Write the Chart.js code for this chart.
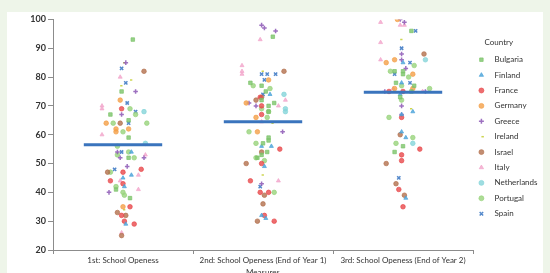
<!DOCTYPE html>
<html>
<head>
<meta charset="utf-8">
<script src="https://cdn.jsdelivr.net/npm/chart.js@4"></script>
<style>
  html, body { margin: 0; padding: 0; background: #eef5e9; width: 550px; height: 273px; overflow: hidden; }
  #panel { position: absolute; left: 7px; top: 12px; width: 536px; height: 261px; background: #ffffff; }
</style>
</head>
<body>
<div id="panel"><canvas id="grafico" width="536" height="261"></canvas></div>
<script>
// categorias del eje x y paises de la leyenda
const categories = ['1st: School Openess', '2nd: School Openess (End of Year 1)', '3rd: School Openess (End of Year 2)'];
const countries = ['Bulgaria', 'Finland', 'France', 'Germany', 'Greece', 'Ireland', 'Israel', 'Italy', 'Netherlands', 'Portugal', 'Spain'];
const yTicks = [20, 30, 40, 50, 60, 70, 80, 90, 100];
const meanValues = [56.5, 64.5, 74.7];

// puntos [posicion x con dispersion, valor]
const bulgaria = [[0.57,93],[0.49,75],[0.41,67],[0.54,65],[0.54,59],[0.54,52],[0.45,41],[0.55,38],
  [1.57,94],[1.41,78],[1.49,77],[1.52,75],[1.49,72],[1.58,71],[1.54,70],[1.54,68],[1.54,59],[1.54,58],[1.50,57],[1.53,54],[1.49,53],[1.46,52],
  [2.56,96],[2.44,82],[2.50,82],[2.50,81],[2.45,78],[2.58,77],[2.56,75],[2.48,73],[2.50,56],[2.44,54]];
const finland = [[0.56,54],[0.56,46],[0.50,45],[0.51,42],[0.52,29],
  [1.55,74],[1.56,56],[1.49,56],[1.51,49],[1.49,32],[1.52,31],
  [2.50,85],[2.49,78],[2.48,74],[2.57,68],[2.49,67],[2.49,61],[2.52,59],[2.52,38]];
const france = [[0.49,69],[0.63,48],[0.50,47],[0.41,44],[0.50,43],[0.55,35],[0.49,32],[0.51,30],[0.58,29],
  [1.48,73],[1.49,70],[1.49,67],[1.62,55],[1.49,50],[1.41,44],[1.48,40],[1.54,40],[1.51,32],[1.58,30],
  [2.40,75],[2.50,75],[2.49,66],[2.62,55],[2.49,53],[2.49,51],[2.47,41],[2.50,35]];
const germany = [[0.48,72],[0.38,64],[0.45,62],[0.54,62],[0.45,61],[0.50,35],
  [1.54,79],[1.38,71],[1.45,66],[1.46,61],
  [2.46,100],[2.44,86],[2.38,85],[2.57,81],[2.44,76],[2.57,76]];
const greece = [[0.52,85],[0.59,75],[0.49,67],[0.46,54],[0.48,52],[0.65,52],[0.53,49],[0.40,40],
  [1.49,98],[1.51,97],[1.59,96],[1.40,71],[1.45,70],[1.64,61],[1.49,43],
  [2.48,100],[2.51,99],[2.49,88],[2.49,86],[2.52,83],[2.37,75],[2.66,75],[2.49,70],[2.49,67]];
const ireland = [[0.50,85],[0.55,79],[0.48,77],[0.50,34],
  [1.49,82],[1.56,64],[1.49,46],
  [2.48,93],[2.55,69]];
const israel = [[0.65,82],[0.48,64],[0.39,47],[0.46,33],[0.52,32],[0.49,25],
  [1.65,82],[1.49,73],[1.45,72],[1.49,54],[1.38,50],[1.51,39],[1.50,36],[1.46,30],
  [2.65,88],[2.48,60],[2.38,50],[2.45,43],[2.51,39]];
const italy = [[0.48,80],[0.35,70],[0.35,69],[0.35,60],[0.66,53],[0.61,46],[0.48,44],[0.61,41],[0.49,26],
  [1.48,93],[1.35,84],[1.35,82],[1.35,81],[1.66,72],[1.61,70],[1.49,64.5],[1.61,44],
  [2.34,99],[2.48,98],[2.51,98],[2.34,92],[2.34,86],[2.43,76],[2.64,75]];
const netherlands = [[0.65,68],[0.66,57],
  [1.65,74],[1.66,69],[1.66,68],
  [2.66,86],[2.57,57]];
const portugal = [[0.55,69],[0.59,67],[0.43,64],[0.67,64],[0.50,61],[0.46,56],[0.54,54],[0.46,53],[0.58,52],[0.41,47],[0.45,42],[0.50,40],[0.51,39],
  [1.43,77],[1.55,76],[1.49,69],[1.54,68],[1.53,66],[1.40,61],[1.45,57],[1.45,52],[1.51,51],[1.58,40],
  [2.58,84],[2.41,82],[2.54,80],[2.49,77],[2.69,76],[2.49,72],[2.40,66],[2.57,59],[2.45,57]];
const spain = [[0.49,83],[0.52,78],[0.53,71],[0.59,68],[0.54,64],[0.49,54],[0.44,48],
  [1.49,81],[1.53,81],[1.59,81],[1.51,79],[1.50,74],[1.48,42],
  [2.59,96],[2.49,90],[2.55,85],[2.44,81],[2.55,78],[2.47,45]];

const countryPoints = [bulgaria, finland, france, germany, greece, ireland, israel, italy, netherlands, portugal, spain];

// estilos de cada pais
const colores = ['#7cc46a', '#4aa2da', '#e8494b', '#f4a048', '#8e5ab6', '#c5cf36', '#b3714e', '#f2a5cb', '#86d5d9', '#98d37c', '#3a77c3'];
const formas = ['rect', 'triangle', 'circle', 'circle', 'cross', 'dash', 'circle', 'triangle', 'circle', 'circle', 'crossRot'];

const fuente = { family: 'Lato, "Liberation Sans", sans-serif', size: 8 };
const gris = '#8c8c8c';

let datasets = countries.map((nombre, i) => ({
  label: nombre,
  data: countryPoints[i].map(p => ({ x: p[0], y: p[1] })),
  pointStyle: formas[i],
  backgroundColor: colores[i] + 'cc',
  borderColor: colores[i] + 'dd',
  borderWidth: (formas[i] === 'cross' || formas[i] === 'crossRot' || formas[i] === 'dash') ? 1.5 : 0.8,
  pointRadius: formas[i] === 'rect' ? 2.5 : 2.3
}));

// lineas de media por categoria
const mediaAncho = 0.28;
meanValues.forEach((m, i) => {
  datasets.push({
    type: 'line',
    label: 'media' + i,
    data: [{ x: i + 0.5 - mediaAncho, y: m }, { x: i + 0.5 + mediaAncho, y: m }],
    borderColor: '#3a74bd',
    borderWidth: 3,
    pointRadius: 0,
    order: -1
  });
});

// ancho fijo de la leyenda
const leyendaFija = {
  id: 'leyendaFija',
  beforeUpdate(chart) {
    if (chart.legend && !chart.legend._fijo) {
      const fitOriginal = chart.legend.fit;
      chart.legend.fit = function () { fitOriginal.call(this); this.width = 70; };
      chart.legend._fijo = true;
    }
  }
};

let grafico = document.getElementById('grafico').getContext('2d');

let diagrama = new Chart(grafico, {
  type: 'scatter',
  data: { datasets: datasets },
  plugins: [leyendaFija],
  options: {
    responsive: false,
    animation: false,
    layout: { padding: { top: 7, right: 0, left: 0, bottom: 0 } },
    plugins: {
      tooltip: { enabled: false },
      legend: {
        position: 'right',
        align: 'start',
        title: { display: true, text: 'Country         ', color: '#333', font: fuente, padding: { top: 19.7, bottom: 0 } },
        labels: {
          usePointStyle: true,
          boxWidth: 2,
          boxHeight: 3.5,
          padding: 7.4,
          color: '#333',
          font: fuente,
          filter: item => item.datasetIndex < countries.length,
          generateLabels: c => Chart.defaults.plugins.legend.labels.generateLabels(c).map(l => ({ ...l, text: '    ' + l.text }))
        }
      }
    },
    scales: {
      x: {
        type: 'linear', min: 0, max: 3, position: 'bottom', weight: 0,
        afterBuildTicks: s => { s.ticks = [0, 1, 2, 3].map(v => ({ value: v })); },
        ticks: { display: false },
        grid: { drawOnChartArea: false, tickLength: 4, color: gris },
        border: { color: gris },
        afterFit: s => { s.height = 4; }
      },
      x2: {
        type: 'linear', min: 0, max: 3, position: 'bottom', weight: 1,
        afterBuildTicks: s => { s.ticks = [0.5, 1.5, 2.5].map(v => ({ value: v })); },
        ticks: { autoSkip: false, maxRotation: 0, padding: 2, color: '#333', font: fuente, callback: v => categories[Math.floor(v)] },
        grid: { display: false, drawTicks: false },
        border: { display: false },
        title: { display: true, text: 'Measures', color: '#333', font: { family: fuente.family, size: 8, lineHeight: 0.2 }, padding: 0 },
        afterFit: s => { s.height = 19; }
      },
      y: {
        min: 20, max: 100,
        afterBuildTicks: s => { s.ticks = yTicks.map(v => ({ value: v })); },
        ticks: { padding: 2, color: '#333', font: { family: fuente.family, size: 9, weight: 'bold' } },
        grid: { drawOnChartArea: false, tickLength: 5, color: gris },
        border: { color: gris },
        afterFit: s => { s.width = 46; }
      }
    }
  }
});
</script>
</body>
</html>
